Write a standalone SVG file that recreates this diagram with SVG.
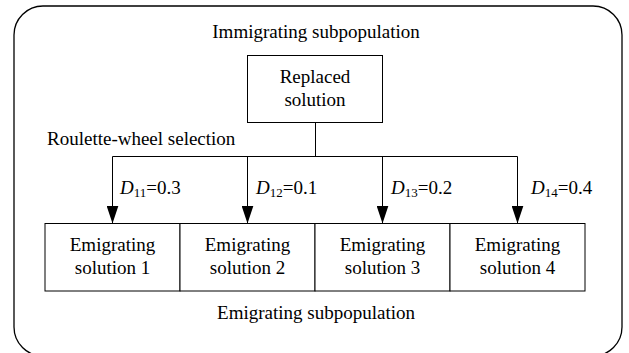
<svg xmlns="http://www.w3.org/2000/svg" width="629" height="353" viewBox="0 0 629 353">
  <defs>
    <marker id="arrow" viewBox="0 0 18 12" refX="18" refY="6" markerWidth="18" markerHeight="12" markerUnits="userSpaceOnUse" orient="auto">
      <path d="M0,0 L18,6 L0,12 z" fill="#000"/>
    </marker>
  </defs>
  <style>
    text { font-family: "Liberation Serif", "Times New Roman", serif; font-size: 19px; fill: #000; }
    .c { text-anchor: middle; }
    .box { fill: #fff; stroke: #000; stroke-width: 1; }
    .frame { fill: #fff; stroke: #000; stroke-width: 1.3; }
    .conn { fill: none; stroke: #000; stroke-width: 1; }
    .it { font-style: italic; }
    .sub { font-size: 13px; }
  </style>
  <rect width="629" height="353" fill="#fff"/>
  <g id="frame">
    <rect class="frame" x="14" y="6" width="608" height="350" rx="29" ry="29"/>
    <text class="c" x="316" y="38">Immigrating subpopulation</text>
    <text class="c" x="316" y="319">Emigrating subpopulation</text>
    <text x="47" y="145">Roulette-wheel selection</text>
  </g>
  <g id="replaced">
    <rect class="box" x="247.5" y="55.5" width="135" height="67"/>
    <text class="c" x="315" y="83">Replaced</text>
    <text class="c" x="315" y="106">solution</text>
  </g>
  <g id="emig1">
    <rect class="box" x="45" y="223.5" width="135" height="67.5"/>
    <text class="c" x="112.5" y="251">Emigrating</text>
    <text class="c" x="112.5" y="274">solution 1</text>
  </g>
  <g id="emig2">
    <rect class="box" x="180" y="223.5" width="135" height="67.5"/>
    <text class="c" x="247.5" y="251">Emigrating</text>
    <text class="c" x="247.5" y="274">solution 2</text>
  </g>
  <g id="emig3">
    <rect class="box" x="315" y="223.5" width="135" height="67.5"/>
    <text class="c" x="382.5" y="251">Emigrating</text>
    <text class="c" x="382.5" y="274">solution 3</text>
  </g>
  <g id="emig4">
    <rect class="box" x="450" y="223.5" width="135" height="67.5"/>
    <text class="c" x="517.5" y="251">Emigrating</text>
    <text class="c" x="517.5" y="274">solution 4</text>
  </g>
  <g id="connectors">
    <path class="conn" d="M315.5,122.5 V156.5 M112.5,156.5 H517.5"/>
    <line class="conn" x1="112.5" y1="156.5" x2="112.5" y2="223.5" marker-end="url(#arrow)"/>
    <line class="conn" x1="247.5" y1="156.5" x2="247.5" y2="223.5" marker-end="url(#arrow)"/>
    <line class="conn" x1="382.5" y1="156.5" x2="382.5" y2="223.5" marker-end="url(#arrow)"/>
    <line class="conn" x1="517.5" y1="156.5" x2="517.5" y2="223.5" marker-end="url(#arrow)"/>
    <text x="120" y="194"><tspan class="it">D</tspan><tspan class="sub" dy="3">11</tspan><tspan dy="-3">=0.3</tspan></text>
    <text x="256" y="194"><tspan class="it">D</tspan><tspan class="sub" dy="3">12</tspan><tspan dy="-3">=0.1</tspan></text>
    <text x="391" y="194"><tspan class="it">D</tspan><tspan class="sub" dy="3">13</tspan><tspan dy="-3">=0.2</tspan></text>
    <text x="531" y="194"><tspan class="it">D</tspan><tspan class="sub" dy="3">14</tspan><tspan dy="-3">=0.4</tspan></text>
  </g>
</svg>
